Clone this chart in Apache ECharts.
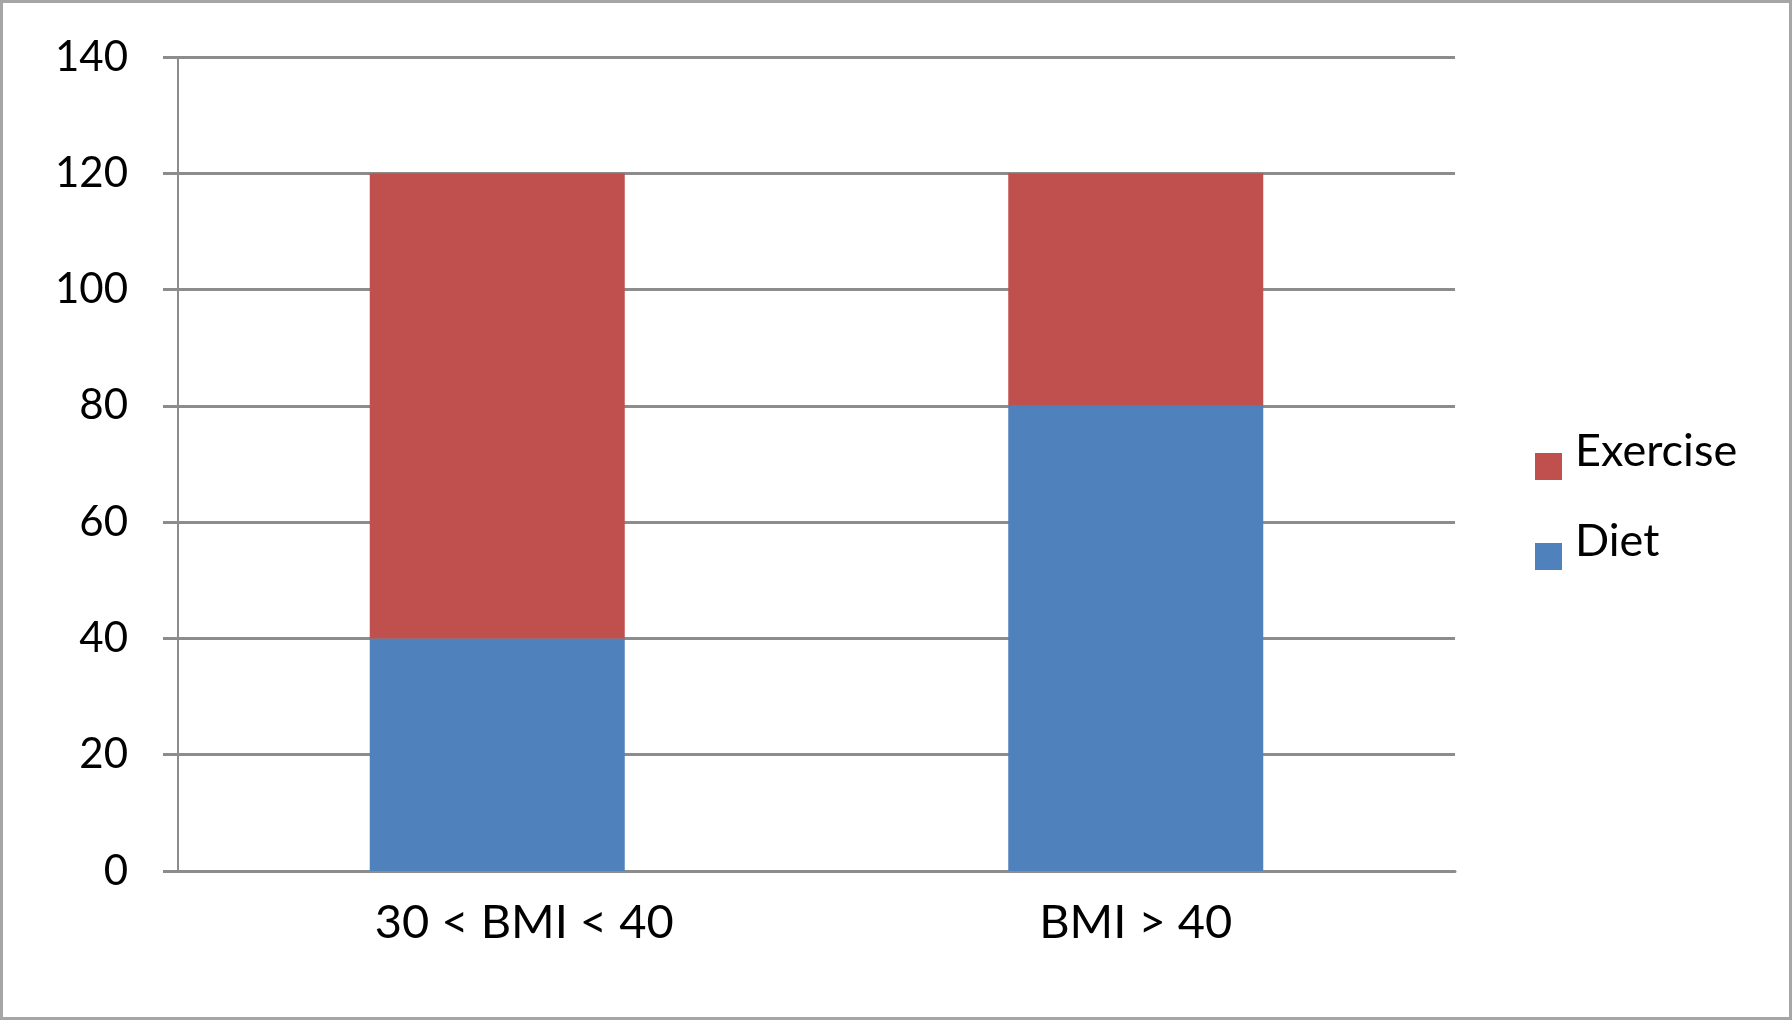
<!DOCTYPE html>
<html>
<head>
<meta charset="utf-8">
<script src="https://cdn.jsdelivr.net/npm/echarts@6/dist/echarts.min.js"></script>
<style>
html,body{margin:0;padding:0;background:#fff;}
#chart{width:1792px;height:1020px;}
</style>
</head>
<body>
<div id="chart"></div>
<script>
var categories = ['30 < BMI < 40', 'BMI > 40'];
var dietValues = [40, 80];
var exerciseValues = [80, 40];
var yMin = 0, yMax = 140, yStep = 20;

var chart = echarts.init(document.getElementById('chart'));
var font = 'Lato, "Open Sans", sans-serif';
var gridColor = '#8c8c8c';

chart.setOption({
  backgroundColor: '#ffffff',
  animation: false,
  graphic: [{
    type: 'rect',
    shape: {x: 1.5, y: 1.5, width: 1789, height: 1017},
    style: {fill: 'none', stroke: '#a6a6a6', lineWidth: 3},
    z: 100
  }],
  grid: {left: 178, right: 337, top: 57, bottom: 149, containLabel: false},
  legend: {
    orient: 'vertical',
    left: 1535,
    top: 429,
    padding: 0,
    itemWidth: 27,
    itemHeight: 27,
    itemGap: 15,
    icon: 'rect',
    data: ['Exercise', 'Diet'],
    formatter: '{t|{name}}',
    textStyle: {
      fontFamily: font, fontSize: 45, color: '#000',
      rich: {t: {fontFamily: font, fontSize: 45, color: '#000', lineHeight: 40, padding: [0, 0, 30, 8]}}
    },
    selectedMode: false
  },
  xAxis: {
    type: 'category',
    data: [
      {value: categories[0], textStyle: {padding: [0, 0, 0, 54]}},
      categories[1]
    ],
    axisLine: {lineStyle: {color: gridColor, width: 3}},
    axisTick: {show: false},
    axisLabel: {fontFamily: font, fontSize: 47, color: '#000', margin: 28}
  },
  yAxis: {
    type: 'value',
    min: yMin, max: yMax, interval: yStep,
    axisLine: {show: true, lineStyle: {color: gridColor, width: 2}},
    axisTick: {show: true, length: 15, lineStyle: {color: gridColor, width: 3}},
    splitLine: {lineStyle: {color: gridColor, width: 3}},
    axisLabel: {fontFamily: font, fontSize: 42, color: '#000', margin: 50}
  },
  series: [
    {name: 'Diet', type: 'bar', stack: 'total', data: dietValues, barWidth: 255,
     itemStyle: {color: '#4F81BD'}},
    {name: 'Exercise', type: 'bar', stack: 'total', data: exerciseValues, barWidth: 255,
     itemStyle: {color: '#C0504D'}}
  ]
});
</script>
</body>
</html>
